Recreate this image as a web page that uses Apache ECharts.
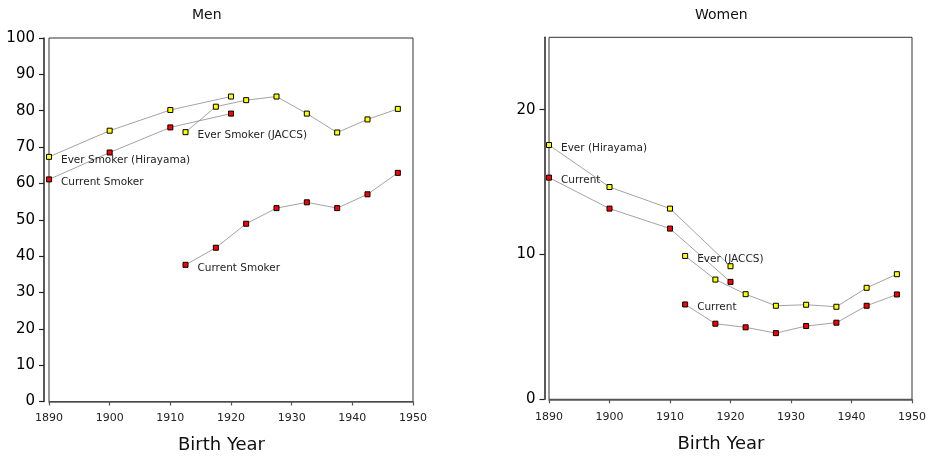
<!DOCTYPE html>
<html>
<head>
<meta charset="utf-8">
<script src="https://cdn.jsdelivr.net/npm/echarts@6/dist/echarts.min.js"></script>
<style>
html,body{margin:0;padding:0;background:#fff;}
#c{width:933px;height:460px;}
</style>
</head>
<body>
<div id="c"></div>
<script>
// ---- data ----
const yearsHirayama = [1890, 1900, 1910, 1920];
const yearsJACCS = [1912.5, 1917.5, 1922.5, 1927.5, 1932.5, 1937.5, 1942.5, 1947.5];

const menEverHirayama = [67.3, 74.5, 80.2, 83.9];
const menCurrentHirayama = [61.1, 68.5, 75.4, 79.2];
const menEverJACCS = [74.1, 81.1, 82.9, 83.9, 79.2, 74.0, 77.6, 80.5];
const menCurrentJACCS = [37.6, 42.3, 48.9, 53.2, 54.8, 53.2, 57.0, 62.9];

const womenEverHirayama = [17.56, 14.66, 13.17, 9.19];
const womenCurrentHirayama = [15.31, 13.17, 11.79, 8.11];
const womenEverJACCS = [9.9, 8.27, 7.26, 6.46, 6.53, 6.39, 7.70, 8.64];
const womenCurrentJACCS = [6.55, 5.22, 4.97, 4.57, 5.06, 5.29, 6.46, 7.24];

const xTicks = [1890, 1900, 1910, 1920, 1930, 1940, 1950];
const womenYTicks = [0, 10, 20];

const panelTitles = ['Men', 'Women'];
const xAxisTitle = 'Birth Year';
const menLabels = ['Ever Smoker (Hirayama)', 'Current Smoker', 'Ever Smoker (JACCS)', 'Current Smoker'];
const womenLabels = ['Ever (Hirayama)', 'Current', 'Ever (JACCS)', 'Current'];

// ---- chart ----
const FONT = 'DejaVu Sans';
const YELLOW = '#ffff00';
const RED = '#ff0000';

function pairs(xs, ys) { return xs.map((x, i) => [x, ys[i]]); }

function mkSeries(idx, xs, ys, color, text) {
  return {
    type: 'line',
    xAxisIndex: idx,
    yAxisIndex: idx,
    data: pairs(xs, ys),
    symbol: 'rect',
    symbolSize: 5,
    showAllSymbol: true,
    lineStyle: { color: '#8c8c8c', width: 0.8 },
    itemStyle: { color: color, borderColor: '#000', borderWidth: 1 },
    label: {
      show: true,
      position: 'right',
      distance: 9,
      offset: [0, 3],
      fontFamily: FONT,
      fontSize: 10.5,
      color: '#222',
      formatter: p => (p.dataIndex === 0 ? text : '')
    },
    emphasis: { disabled: true },
    z: 3
  };
}

function mkX(idx, off) {
  return {
    type: 'value',
    gridIndex: idx,
    min: 1890, max: 1950, interval: 10,
    offset: off,
    splitLine: { show: false },
    axisLine: { show: true, lineStyle: { color: '#555', width: 1.5 } },
    axisTick: { show: true, length: 4, lineStyle: { color: '#555', width: 1.2 }, customValues: xTicks },
    axisLabel: { fontFamily: FONT, fontSize: 11, color: '#222', margin: 7, customValues: xTicks, formatter: v => String(v) },
    name: xAxisTitle,
    nameLocation: 'middle',
    nameGap: 31,
    nameTextStyle: { fontFamily: FONT, fontSize: 18, color: '#111', padding: [0, 19, 0, 0] }
  };
}

function mkY(idx, max, off, ticks) {
  const ax = {
    type: 'value',
    gridIndex: idx,
    min: 0, max: max, interval: 10,
    offset: off,
    splitLine: { show: false },
    axisLine: { show: true, lineStyle: { color: '#222', width: 1.5 } },
    axisTick: { show: true, length: 5, lineStyle: { color: '#222', width: 1.2 } },
    axisLabel: { fontFamily: FONT, fontSize: 15, color: '#000', margin: 9, formatter: v => String(v) }
  };
  if (ticks) {
    ax.axisTick.customValues = ticks;
    ax.axisLabel.customValues = ticks;
  }
  return ax;
}

const chart = echarts.init(document.getElementById('c'), null, { renderer: 'canvas' });
chart.setOption({
  animation: false,
  backgroundColor: '#fff',
  title: [
    { text: panelTitles[0], left: 192, top: 8, padding: 0, textStyle: { fontFamily: FONT, fontSize: 14, fontWeight: 'normal', color: '#111' } },
    { text: panelTitles[1], left: 695, top: 8, padding: 0, textStyle: { fontFamily: FONT, fontSize: 14, fontWeight: 'normal', color: '#111' } }
  ],
  grid: [
    { left: 49, top: 38, width: 364, height: 363.5, show: true, borderColor: '#333', borderWidth: 1, containLabel: false },
    { left: 549, top: 37.3, width: 363, height: 362, show: true, borderColor: '#333', borderWidth: 1, containLabel: false }
  ],
  xAxis: [mkX(0, 4), mkX(1, 5)],
  yAxis: [mkY(0, 100, 5, null), mkY(1, 25, 4.5, womenYTicks)],
  series: [
    mkSeries(0, yearsHirayama, menEverHirayama, YELLOW, menLabels[0]),
    mkSeries(0, yearsHirayama, menCurrentHirayama, RED, menLabels[1]),
    mkSeries(0, yearsJACCS, menEverJACCS, YELLOW, menLabels[2]),
    mkSeries(0, yearsJACCS, menCurrentJACCS, RED, menLabels[3]),
    mkSeries(1, yearsHirayama, womenEverHirayama, YELLOW, womenLabels[0]),
    mkSeries(1, yearsHirayama, womenCurrentHirayama, RED, womenLabels[1]),
    mkSeries(1, yearsJACCS, womenEverJACCS, YELLOW, womenLabels[2]),
    mkSeries(1, yearsJACCS, womenCurrentJACCS, RED, womenLabels[3])
  ]
});
</script>
</body>
</html>
